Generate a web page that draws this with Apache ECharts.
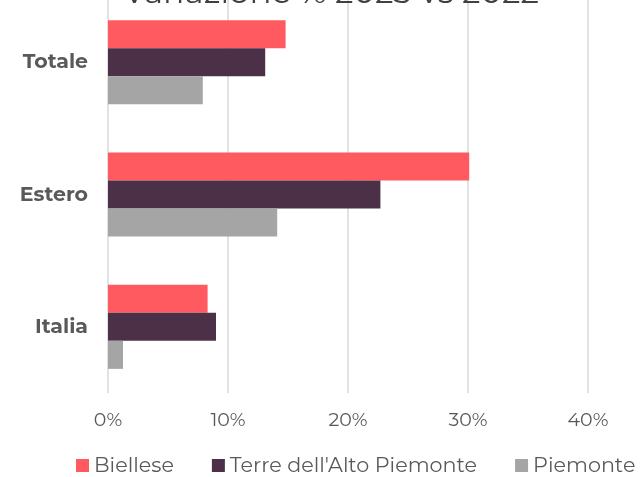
<!DOCTYPE html>
<html><head><meta charset="utf-8">
<script src="https://cdn.jsdelivr.net/npm/echarts@6/dist/echarts.min.js"></script>
<style>html,body{margin:0;padding:0;background:#fff;overflow:hidden}#c{width:641px;height:481px;margin-top:-4px}</style>
</head><body><div id="c"></div>
<script>
const categories = ['Italia', 'Estero', 'Totale'];
const biellese = [8.3, 30.1, 14.8];
const terre = [9.0, 22.7, 13.1];
const piemonte = [1.25, 14.1, 7.9];
const xTicks = [0, 10, 20, 30, 40];

const chart = echarts.init(document.getElementById('c'));
const font = 'Montserrat, "Open Sans", sans-serif';
chart.setOption({
  animation: false,
  title: {
    text: 'Variazione % 2023 vs 2022',
    left: 118, top: -24,
    textStyle: { fontFamily: font, fontSize: 32.5, fontWeight: 'normal', color: '#404040' }
  },
  legend: {
    data: ['Biellese', "Terre dell'Alto Piemonte", 'Piemonte'],
    top: 454, left: 71, width: 600,
    itemWidth: 13, itemHeight: 13, itemGap: 38,
    icon: 'rect',
    textStyle: { fontFamily: font, fontSize: 20.7, color: '#595959' }
  },
  grid: { left: 108, right: 53, top: 0, height: 397 },
  xAxis: {
    type: 'value', min: 0, max: 40, interval: 10,
    axisLabel: { formatter: v => v + '%', fontFamily: font, fontSize: 19, color: '#595959', margin: 18 },
    splitLine: { lineStyle: { color: '#d9d9d9', width: 1.5 } },
    axisLine: { show: false }, axisTick: { show: false }
  },
  yAxis: {
    type: 'category', data: categories,
    axisLabel: { fontFamily: font, fontSize: 20.5, fontWeight: 'bold', color: '#595959', margin: 20 },
    axisLine: { show: false }, axisTick: { show: false }
  },
  series: [
    { name: 'Biellese', type: 'bar', data: biellese, itemStyle: { color: '#ff5a5f' }, barGap: '0%', barCategoryGap: '36.5%' },
    { name: "Terre dell'Alto Piemonte", type: 'bar', data: terre, itemStyle: { color: '#4b3048' } },
    { name: 'Piemonte', type: 'bar', data: piemonte, itemStyle: { color: '#a5a5a5' } }
  ]
});
</script></body></html>
